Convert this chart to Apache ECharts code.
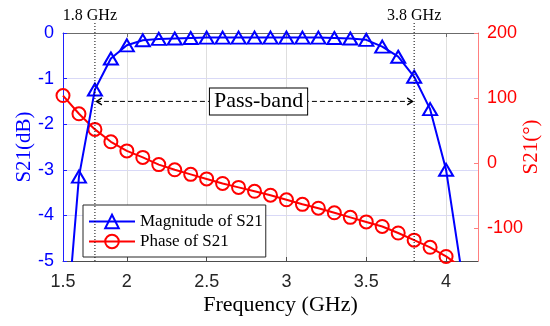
<!DOCTYPE html>
<html>
<head>
<meta charset="utf-8">
<script src="https://cdn.jsdelivr.net/npm/echarts@6/dist/echarts.min.js"></script>
<style>
  html, body { margin: 0; padding: 0; background: #fff; }
  #chart { width: 550px; height: 326px; }
</style>
</head>
<body>
<div id="chart"></div>
<script>
// Filter response: S21 magnitude (dB) and phase (degrees) versus frequency (GHz)
const freq = [1.6, 1.7, 1.8, 1.9, 2.0, 2.1, 2.2, 2.3, 2.4, 2.5, 2.6, 2.7, 2.8,
              2.9, 3.0, 3.1, 3.2, 3.3, 3.4, 3.5, 3.6, 3.7, 3.8, 3.9, 4.0, 4.1];
const magnitude = [-7.4, -3.15, -1.24, -0.56, -0.27, -0.16, -0.13, -0.12, -0.11, -0.1,
                   -0.1, -0.1, -0.1, -0.1, -0.1, -0.1, -0.1, -0.11, -0.12, -0.15,
                   -0.3, -0.52, -0.96, -1.67, -3.0, -5.3];
const phase = [104, 76, 52, 33, 19, 9, -2, -10, -17, -24, -31, -37, -43,
               -49, -56, -63, -69, -76, -83, -90, -97, -107, -118, -129, -143, -160];

const xTickValues = [1.6, 2, 2.5, 3, 3.5, 4];
const xTickLabels = ['1.5', '2', '2.5', '3', '3.5', '4'];
const phaseTicks = [-100, 0, 100, 200];
const bandEdges = [1.8, 3.8];
const bandEdgeLabels = ['1.8 GHz', '3.8 GHz'];
const bandLabel = 'Pass-band';

const serif = 'Liberation Serif';
const sans = 'Liberation Sans';
const BLUE = '#0000ff';
const RED = '#ff0000';

const chart = echarts.init(document.getElementById('chart'), null, { renderer: 'canvas' });

function xLabel(v) {
  const i = xTickValues.findIndex(t => Math.abs(t - v) < 1e-6);
  return i >= 0 ? xTickLabels[i] : '';
}

chart.setOption({
  animation: false,
  backgroundColor: '#fff',
  grid: { left: 63, right: 72, top: 33, bottom: 65, containLabel: false, outerBoundsMode: 'none' },
  legend: {
    data: ['Magnitude of S21', 'Phase of S21'],
    orient: 'vertical',
    left: 83,
    top: 205,
    itemWidth: 46,
    itemHeight: 17,
    itemGap: 3,
    padding: [8, 3, 7, 5],
    backgroundColor: '#fff',
    borderColor: '#262626',
    borderWidth: 1,
    borderRadius: 0,
    textStyle: { fontFamily: serif, fontSize: 17, color: '#000' }
  },
  xAxis: [
    {
      type: 'value',
      min: 1.6,
      max: 4.2,
      position: 'bottom',
      name: 'Frequency (GHz)',
      nameLocation: 'middle',
      nameGap: 33,
      nameMoveOverlap: false,
      nameTextStyle: { fontFamily: serif, fontSize: 22, color: '#000', padding: [0, 0, 0, 20] },
      axisLine: { show: true, onZero: false, lineStyle: { color: '#4d4d4d', width: 1 } },
      axisTick: { show: true, inside: true, length: 4, customValues: xTickValues.slice(1),
                  lineStyle: { color: '#4d4d4d' } },
      axisLabel: { customValues: xTickValues, formatter: xLabel, margin: 12,
                   fontFamily: sans, fontSize: 18, color: '#262626' },
      splitLine: { show: true, customValues: xTickValues.slice(1),
                   lineStyle: { color: '#dedede', width: 1 } }
    },
    {
      type: 'value',
      min: 1.6,
      max: 4.2,
      position: 'top',
      axisLine: { show: true, onZero: false, lineStyle: { color: '#6b6b6b', width: 1 } },
      axisTick: { show: true, inside: true, length: 4, customValues: xTickValues.slice(1),
                  lineStyle: { color: '#6b6b6b' } },
      axisLabel: { show: false },
      splitLine: { show: false }
    }
  ],
  yAxis: [
    {
      type: 'value',
      min: -5,
      max: 0,
      interval: 1,
      position: 'left',
      name: 'S21(dB)',
      nameLocation: 'middle',
      nameRotate: 90,
      nameGap: 28,
      nameMoveOverlap: false,
      nameTextStyle: { fontFamily: serif, fontSize: 21, color: BLUE },
      axisLine: { show: true, onZero: false, lineStyle: { color: '#2020ff', width: 1 } },
      axisTick: { show: true, inside: true, length: 4, lineStyle: { color: '#2020ff' } },
      axisLabel: { margin: 9, fontFamily: sans, fontSize: 18, color: BLUE },
      splitLine: { show: true, lineStyle: { color: '#d9d9f7', width: 1 } }
    },
    {
      type: 'value',
      min: -150,
      max: 200,
      position: 'right',
      name: 'S21(°)',
      nameLocation: 'middle',
      nameRotate: 90,
      nameGap: 43,
      nameMoveOverlap: false,
      nameTextStyle: { fontFamily: serif, fontSize: 21, color: RED },
      axisLine: { show: true, onZero: false, lineStyle: { color: '#ff7f7f', width: 1 } },
      axisTick: { show: true, inside: true, length: 4, customValues: phaseTicks,
                  lineStyle: { color: '#ff7f7f' } },
      axisLabel: { customValues: phaseTicks, margin: 9, fontFamily: sans, fontSize: 18, color: RED },
      splitLine: { show: false }
    }
  ],
  series: [
    {
      name: 'Phase of S21',
      type: 'line',
      xAxisIndex: 0,
      yAxisIndex: 1,
      data: freq.map((f, i) => [f, phase[i]]),
      symbol: 'circle',
      symbolSize: 13,
      showAllSymbol: true,
      clip: true,
      lineStyle: { color: RED, width: 2 },
      itemStyle: { color: 'rgba(0,0,0,0)', borderColor: RED, borderWidth: 2 },
      z: 2
    },
    {
      name: 'Magnitude of S21',
      type: 'line',
      xAxisIndex: 0,
      yAxisIndex: 0,
      data: freq.map((f, i) => [f, magnitude[i]]),
      symbol: 'triangle',
      symbolSize: [14, 12],
      showAllSymbol: true,
      clip: true,
      lineStyle: { color: BLUE, width: 2 },
      itemStyle: { color: 'rgba(0,0,0,0)', borderColor: BLUE, borderWidth: 2 },
      z: 3
    }
  ]
});

// Band-edge markers and the pass-band annotation, placed through the chart's own axes
const toPx = (f, v) => chart.convertToPixel({ xAxisIndex: 0, yAxisIndex: 0 }, [f, v]);
const plotTop = toPx(bandEdges[0], 0)[1];
const plotBottom = toPx(bandEdges[0], -5)[1];
const xLo = toPx(bandEdges[0], 0)[0];
const xHi = toPx(bandEdges[1], 0)[0];
const arrowY = toPx(bandEdges[0], -1.5)[1];
const boxCenter = toPx(2.825, -1.5);

const graphics = [];
bandEdges.forEach((f, i) => {
  const x = toPx(f, 0)[0];
  graphics.push({
    type: 'line', z: 5,
    shape: { x1: x, y1: plotTop - 10, x2: x, y2: plotBottom },
    style: { stroke: '#000', lineWidth: 1, lineDash: [1, 2] }
  });
  graphics.push({
    type: 'text', z: 5,
    x: x + (i === 0 ? -5 : 0), y: plotTop - 17,
    style: { text: bandEdgeLabels[i], font: '16px "' + serif + '"', fill: '#000',
             align: 'center', verticalAlign: 'middle' }
  });
});
graphics.push({
  type: 'line', z: 5,
  shape: { x1: xLo + 1, y1: arrowY, x2: xHi - 1, y2: arrowY },
  style: { stroke: '#000', lineWidth: 1, lineDash: [5, 3] }
});
graphics.push({
  type: 'polyline', z: 5,
  shape: { points: [[xLo + 7, arrowY - 3.5], [xLo + 1.5, arrowY], [xLo + 7, arrowY + 3.5]] },
  style: { stroke: '#000', lineWidth: 1.3, fill: null }
});
graphics.push({
  type: 'polyline', z: 5,
  shape: { points: [[xHi - 7, arrowY - 3.5], [xHi - 1.5, arrowY], [xHi - 7, arrowY + 3.5]] },
  style: { stroke: '#000', lineWidth: 1.3, fill: null }
});
graphics.push({
  type: 'text', z: 6,
  x: boxCenter[0], y: boxCenter[1],
  style: { text: bandLabel, font: '22px "' + serif + '"', fill: '#000',
           align: 'center', verticalAlign: 'middle',
           backgroundColor: '#fff', borderColor: '#000', borderWidth: 1,
           padding: [2, 4, 2, 4] }
});

chart.setOption({ graphic: graphics });
</script>
</body>
</html>
